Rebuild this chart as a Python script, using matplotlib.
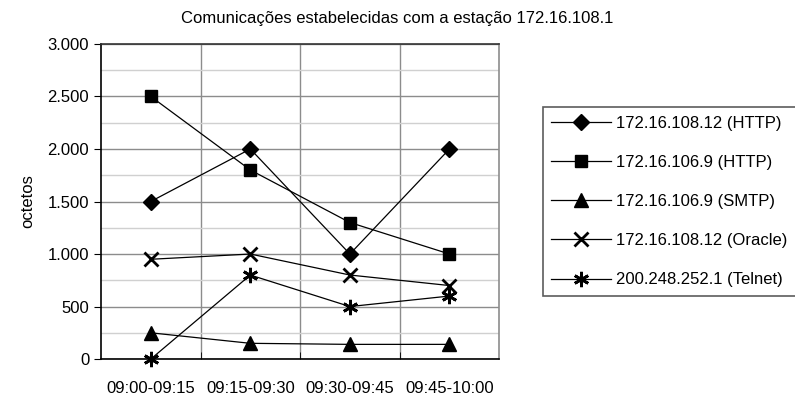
import matplotlib.pyplot as plt
from matplotlib.ticker import FuncFormatter, MultipleLocator

periods = ["09:00-09:15", "09:15-09:30", "09:30-09:45", "09:45-10:00"]
series_names = [
    "172.16.108.12 (HTTP)",
    "172.16.106.9 (HTTP)",
    "172.16.106.9 (SMTP)",
    "172.16.108.12 (Oracle)",
    "200.248.252.1 (Telnet)",
]
http_108_12 = [1500, 2000, 1000, 2000]
http_106_9 = [2500, 1800, 1300, 1000]
smtp_106_9 = [250, 150, 140, 140]
oracle_108_12 = [950, 1000, 800, 700]
telnet_200 = [0, 800, 500, 600]

plt.rcParams["font.family"] = "Liberation Sans"

fig = plt.figure(figsize=(7.95, 4.03), dpi=100)
ax = fig.add_axes([0.127, 0.109, 0.501, 0.782])

x = list(range(len(periods)))
styles = [
    dict(marker="D", markersize=8),
    dict(marker="s", markersize=9),
    dict(marker="^", markersize=10),
    dict(marker="x", markersize=10, markeredgewidth=2),
    dict(marker=(6, 2, 0), markersize=11, markeredgewidth=2),
]
for vals, name, st in zip(
    [http_108_12, http_106_9, smtp_106_9, oracle_108_12, telnet_200], series_names, styles
):
    ax.plot(x, vals, color="black", linewidth=0.9, markerfacecolor="black",
            markeredgecolor="black", label=name, clip_on=False, zorder=3, **st)

ax.set_xlim(-0.5, 3.5)
ax.set_ylim(0, 3000)
ax.set_xticks(x)
ax.set_xticklabels(periods, fontsize=12)
ax.set_xticks([0.5, 1.5, 2.5], minor=True)
ax.yaxis.set_major_locator(MultipleLocator(500))
ax.yaxis.set_minor_locator(MultipleLocator(250))
ax.yaxis.set_major_formatter(FuncFormatter(lambda v, p: f"{int(v):,}".replace(",", ".")))
ax.tick_params(axis="y", labelsize=12, length=5, direction="out")
ax.tick_params(axis="x", which="major", length=0, pad=16)
ax.tick_params(axis="x", which="minor", length=5, direction="in")
ax.tick_params(axis="y", which="minor", length=0)

ax.grid(axis="y", which="major", color="#8c8c8c", linewidth=1.0, zorder=0)
ax.grid(axis="y", which="minor", color="#d0d0d0", linewidth=1.0, zorder=0)
ax.grid(axis="x", which="minor", color="#8c8c8c", linewidth=1.0, zorder=0)
for s in ax.spines.values():
    s.set_color("black")
    s.set_linewidth(1.2)
ax.spines["top"].set_color("#333333")
ax.spines["right"].set_color("#8c8c8c")
ax.set_axisbelow(True)

ax.set_ylabel("octetos", fontsize=12, labelpad=9)
fig.text(0.5, 0.955, "Comunicações estabelecidas com a estação 172.16.108.1",
         ha="center", va="center", fontsize=12)

leg = ax.legend(loc="center left", bbox_to_anchor=(1.11, 0.50), frameon=True,
                fancybox=False, edgecolor="#333333", fontsize=12, handlelength=3.6,
                labelspacing=1.45, handletextpad=0.3, borderpad=0.5,
                borderaxespad=0)
leg.get_frame().set_linewidth(1.2)

fig.savefig("out.png", dpi=100)
